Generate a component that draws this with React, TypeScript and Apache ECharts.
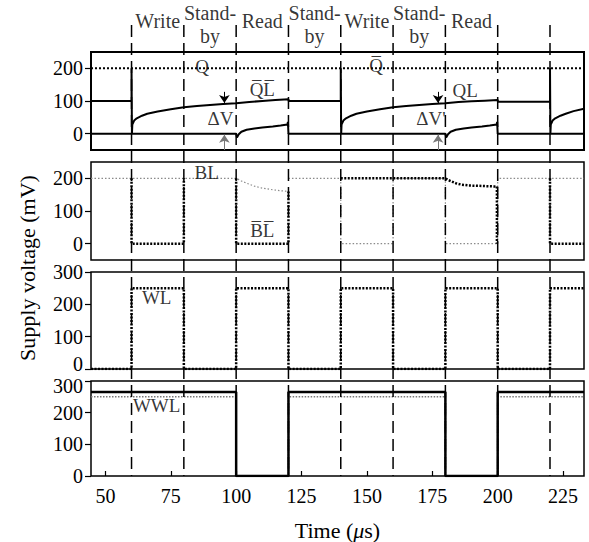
import React, { useEffect, useRef } from "react";
import * as echarts from "echarts";

type P = [number, number];

const X_MIN = 44.5;
const X_MAX = 233;
const timeTicks = [50, 75, 100, 125, 150, 175, 200, 225];
const phaseBoundaries = [60, 80, 100, 120, 140, 160, 180, 200, 220];
const phaseNames = ["Write", "Stand-\nby", "Read", "Stand-\nby", "Write", "Stand-\nby", "Read"];
const phaseCenters = [70, 90, 110, 130, 150, 170, 190];

const storageTicks = [0, 100, 200];
const lineTicks = [0, 100, 200, 300];

// Panel 1: storage nodes
const qNode: P[] = [[44.5, 200], [233, 200]];
const qlUpper: P[] = [
  [44.5, 100], [60, 100], [60, 200], [60.15, 0], [60.3, 28], [61, 40], [62, 47], [64, 55], [66, 61],
  [70, 68], [75, 75], [80, 81], [85, 85], [90, 88], [95, 91], [100, 93], [105, 97], [110, 100],
  [115, 103], [120, 105], [120.1, 100], [140, 100], [140, 200], [140.15, 0], [140.3, 28], [141, 40],
  [142, 47], [144, 55], [146, 61], [150, 68], [155, 75], [160, 81], [165, 85], [170, 88], [175, 91],
  [180, 93], [185, 97], [190, 99], [195, 101], [200, 103], [200.1, 98], [220, 98], [220, 200],
  [220.15, 0], [220.3, 28], [221, 40], [222, 47], [224, 55], [226, 61], [229, 69], [233, 76],
];
const qlLower: P[] = [
  [44.5, 0], [100, 0], [100.3, -12], [101, -2], [102, 6], [104, 12], [107, 16], [110, 19], [114, 22],
  [117, 25], [119.6, 28], [119.8, 36], [120, 0], [180, 0], [180.3, -12], [181, -2], [182, 6], [184, 12],
  [187, 16], [190, 19], [194, 22], [197, 25], [199.6, 28], [199.8, 36], [200, 0], [233, 0],
];

// Panel 2: bit lines
const blThickSegments: P[][] = [
  [[60, 200], [60, 0], [80, 0], [80, 200]],
  [[100, 200], [100, 0], [120, 0], [120, 160]],
  [[140, 200], [180, 200], [181, 195], [182.5, 190], [184, 185], [186, 181], [189, 178], [193, 177],
   [196, 176], [199.7, 175], [199.7, 0]],
  [[220, 200], [220, 0], [233, 0]],
];
const blThinSegments: P[][] = [
  [[44.5, 200], [100, 200], [101, 196], [102, 192], [104, 185], [107, 176], [110, 170], [114, 165],
   [117, 162], [120, 160]],
  [[120, 200], [140, 200], [140, 0], [160, 0], [160, 200], [180, 200], [180, 0], [200, 0], [200, 200],
   [233, 200]],
];

// Panel 3: word line
const wl: P[] = [
  [44.5, 0], [60, 0], [60, 250], [80, 250], [80, 0], [100, 0], [100, 250], [120, 250], [120, 0],
  [140, 0], [140, 250], [160, 250], [160, 0], [180, 0], [180, 250], [200, 250], [200, 0], [220, 0],
  [220, 250], [233, 250],
];

// Panel 4: write word line
const wwlSolid: P[] = [
  [44.5, 265], [100, 265], [100, 0], [120, 0], [120, 265], [180, 265], [180, 0], [200, 0],
  [200, 265], [233, 265],
];
const wwlDotted: P[] = [
  [44.5, 250], [100, 250], [100, 0], [120, 0], [120, 250], [180, 250], [180, 0], [200, 0],
  [200, 250], [233, 250],
];

// Delta-V arrows: [time, from, to]
const downArrows: [number, number, number][] = [[95.5, 128, 94], [177.2, 128, 94]];
const upArrows: [number, number, number][] = [[95.5, -50, -3], [177.2, -50, -3]];

// Annotations: [panel, text, time, value]
const annotations: [number, string, number, number][] = [
  [0, "Q", 87, 206],
  [0, "Q\u0305L\u0305", 110, 136],
  [0, "Q\u0305", 153.5, 208],
  [0, "QL", 187.6, 133],
  [0, "\u0394V", 94, 45],
  [0, "\u0394V'", 174.5, 45],
  [1, "BL", 88.7, 217],
  [1, "B\u0305L\u0305", 110, 40],
  [2, "WL", 69.6, 220],
  [3, "WWL", 69.6, 222],
];

const FONT = "'Liberation Serif', 'Times New Roman', serif";

export default function App() {
  const ref = useRef<HTMLDivElement>(null);

  useEffect(() => {
    document.body.style.margin = "0";
    if (!ref.current) return;
    const chart = echarts.init(ref.current, undefined, { renderer: "svg" });

    const gridTops = [52, 162, 272, 381];
    const gridHeights = [98, 98, 97, 98];
    const grids: any[] = gridTops.map((t, i) => ({
      left: 91,
      width: 493,
      top: t,
      height: gridHeights[i],
      show: true,
      borderColor: "#000",
      borderWidth: i === 0 ? 2 : 1.5,
      backgroundColor: "transparent",
    }));
    grids.push({ left: 91, width: 493, top: 0, height: 542, show: false });

    const xAxes: any[] = [0, 1, 2, 3, 4].map((i) => {
      const base: any = {
        gridIndex: i,
        type: "value",
        min: X_MIN,
        max: X_MAX,
        splitLine: { show: false },
      };
      if (i !== 3) return { ...base, show: false };
      return {
        ...base,
        axisLine: { show: false },
        axisTick: {
          show: true,
          inside: true,
          length: 5,
          customValues: timeTicks,
          lineStyle: { color: "#000", width: 1.2 },
        },
        axisLabel: {
          customValues: timeTicks,
          fontSize: 20,
          color: "#000",
          margin: 10,
          fontFamily: FONT,
        },
        name: "Time ({i|\u03bc}s)",
        nameLocation: "middle",
        nameGap: 43,
        nameTextStyle: {
          fontSize: 22,
          color: "#000",
          fontFamily: FONT,
          rich: { i: { fontStyle: "italic", fontSize: 22, fontFamily: FONT, color: "#000" } },
        },
      };
    });

    const labelRich = {
      up: { fontSize: 20, fontFamily: FONT, color: "#000", padding: [0, 0, 10, 0] },
      down: { fontSize: 20, fontFamily: FONT, color: "#000", padding: [10, 0, 0, 0] },
      n: { fontSize: 20, fontFamily: FONT, color: "#000" },
    };

    const yAxes: any[] = [0, 1, 2, 3].map((i) => {
      const ticks = i < 2 ? storageTicks : lineTicks;
      return {
        gridIndex: i,
        type: "value",
        min: i < 2 ? -50 : 0,
        max: i < 2 ? 250 : 300,
        axisLine: { show: false },
        splitLine: { show: false },
        axisTick: {
          show: true,
          length: 6,
          customValues: ticks,
          lineStyle: { color: "#000", width: 1.2 },
        },
        axisLabel: {
          customValues: ticks,
          fontSize: 20,
          color: "#000",
          margin: 8,
          fontFamily: FONT,
          rich: labelRich,
          formatter: (v: number) => {
            if (i === 2 && v === 0) return `{up|${v}}`;
            if (i === 3 && v === 300) return `{down|${v}}`;
            return `{n|${v}}`;
          },
        },
      };
    });
    yAxes.push({ gridIndex: 4, type: "value", min: 0, max: 542, inverse: true, show: false });

    const line = (idx: number, data: P[], lineStyle: any, z = 2, extra: any = {}) => ({
      type: "line",
      xAxisIndex: idx,
      yAxisIndex: idx,
      data,
      symbol: "none",
      silent: true,
      z,
      lineStyle,
      ...extra,
    });

    const series: any[] = [];
    // Panel 1
    series.push(line(0, qNode, { color: "#000", width: 2, type: [2, 2] }));
    series.push(
      line(0, qlUpper, { color: "#000", width: 2 }, 3, {
        markLine: {
          silent: true,
          symbol: ["none", "arrow"],
          symbolSize: 8,
          label: { show: false },
          data: [
            ...downArrows.map(([t, a, b]) => [
              { coord: [t, a], lineStyle: { color: "#000", width: 1, type: "solid" } },
              { coord: [t, b] },
            ]),
            ...upArrows.map(([t, a, b]) => [
              { coord: [t, a], lineStyle: { color: "#777", width: 1, type: "solid" } },
              { coord: [t, b] },
            ]),
          ],
        },
      })
    );
    series.push(line(0, qlLower, { color: "#000", width: 2 }, 3));
    // Panel 2
    blThinSegments.forEach((seg) =>
      series.push(line(1, seg, { color: "#8a8a8a", width: 1.2, type: [1.5, 2] }, 2))
    );
    blThickSegments.forEach((seg) =>
      series.push(line(1, seg, { color: "#000", width: 2.5, type: [2, 1.5] }, 3))
    );
    // Panel 3
    series.push(line(2, wl, { color: "#000", width: 2.5, type: [2, 1.5] }, 3));
    // Panel 4
    series.push(line(3, wwlDotted, { color: "#777", width: 1.5, type: [1.5, 1.5] }, 2));
    series.push(line(3, wwlSolid, { color: "#000", width: 2.5 }, 3));

    // Phase separators
    phaseBoundaries.forEach((b) =>
      series.push(
        line(4, [[b, 25], [b, 476]], { color: "#000", width: 1.5, type: [12, 6] }, 5)
      )
    );
    // Phase labels
    series.push({
      type: "scatter",
      xAxisIndex: 4,
      yAxisIndex: 4,
      silent: true,
      symbolSize: 1,
      itemStyle: { color: "transparent" },
      z: 6,
      data: phaseNames.map((n, i) => ({
        value: [phaseCenters[i], n.includes("\n") ? 24.5 : 21],
        name: n,
      })),
      label: {
        show: true,
        position: "inside",
        formatter: "{b}",
        fontSize: 20,
        lineHeight: 23,
        color: "#000",
        fontFamily: FONT,
        align: "center",
        verticalAlign: "middle",
      },
    });
    // Annotations per panel
    [0, 1, 2, 3].forEach((p) => {
      series.push({
        type: "scatter",
        xAxisIndex: p,
        yAxisIndex: p,
        silent: true,
        symbolSize: 1,
        itemStyle: { color: "transparent" },
        z: 6,
        data: annotations
          .filter((a) => a[0] === p)
          .map((a) => ({ value: [a[2], a[3]], name: a[1] })),
        label: {
          show: true,
          position: "inside",
          formatter: "{b}",
          fontSize: 19,
          color: "#000",
          fontFamily: FONT,
          align: "center",
          verticalAlign: "middle",
        },
      });
    });

    chart.setOption({
      animation: false,
      backgroundColor: "#fff",
      grid: grids,
      xAxis: xAxes,
      yAxis: yAxes,
      series,
      graphic: [
        {
          type: "text",
          x: 27,
          y: 268,
          rotation: Math.PI / 2,
          style: {
            text: "Supply voltage (mV)",
            font: `22px ${FONT}`,
            fill: "#000",
            align: "center",
            verticalAlign: "middle",
            textAlign: "center",
            textVerticalAlign: "middle",
          },
        },
      ],
    });

    return () => chart.dispose();
  }, []);

  return <div ref={ref} style={{ width: 589, height: 542 }} />;
}
